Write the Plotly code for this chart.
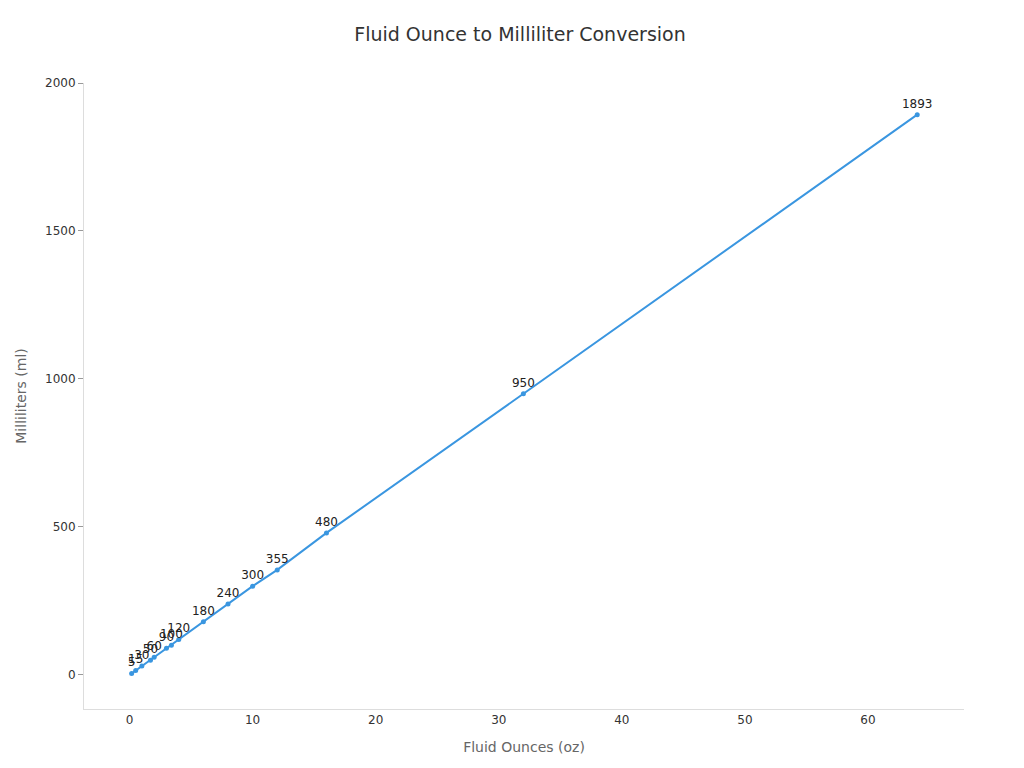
import plotly.graph_objects as go

fl_oz = [0.17, 0.5, 1, 1.7, 2, 3, 3.4, 4, 6, 8, 10, 12, 16, 32, 64]
ml = [5, 15, 30, 50, 60, 90, 100, 120, 180, 240, 300, 355, 480, 950, 1893]

fig = go.Figure(go.Scatter(
    x=fl_oz, y=ml, mode="lines+markers+text",
    text=[str(v) for v in ml], textposition="top center",
    textfont=dict(size=12, color="#222"),
    line=dict(color="#3a96e0", width=2), marker=dict(size=5, color="#3a96e0"),
))
fig.update_layout(
    width=1024, height=768, paper_bgcolor="white", plot_bgcolor="white",
    margin=dict(l=69, r=68, t=75, b=67),
    font=dict(family="DejaVu Sans", color="#333"),
    title=dict(text="Fluid Ounce to Milliliter Conversion", x=0.5, y=0.975, xanchor="center",
               font=dict(size=19, color="#333")),
    showlegend=False,
)
fig.update_xaxes(range=[-3.7, 67.8], tickvals=[0, 10, 20, 30, 40, 50, 60], showgrid=False,
                 zeroline=False, showline=True, linecolor="#ddd",
                 title=dict(text="Fluid Ounces (oz)", font=dict(size=14, color="#666")),
                 tickfont=dict(size=12, color="#333"))
fig.update_yaxes(range=[-115, 2000], tickvals=[0, 500, 1000, 1500, 2000], showgrid=False,
                 zeroline=False, showline=True, linecolor="#ddd", ticks="outside",
                 ticklen=5, tickcolor="#999",
                 title=dict(text="Milliliters (ml)", font=dict(size=14, color="#666")),
                 tickfont=dict(size=12, color="#333"))
fig.write_html("out.html")
